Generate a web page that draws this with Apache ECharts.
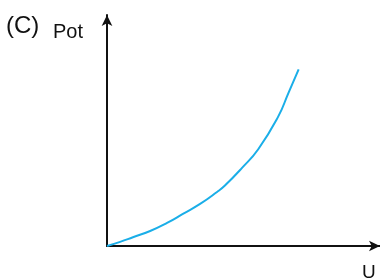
<!DOCTYPE html>
<html>
<head>
<meta charset="utf-8">
<script src="https://cdn.jsdelivr.net/npm/echarts@6/dist/echarts.min.js"></script>
<style>
html, body { margin: 0; padding: 0; background: #fff; }
#main { width: 380px; height: 280px; }
</style>
</head>
<body>
<div id="main"></div>
<script>
// curve (arbitrary units)
var uValues = [0, 0.48, 0.95, 1.58, 2.20, 2.78, 3.41, 4.03, 4.32, 4.93, 5.54, 6.27, 6.64, 7.02];
var potValues = [0, 0.18, 0.38, 0.65, 1.00, 1.39, 1.82, 2.34, 2.62, 3.36, 4.19, 5.60, 6.61, 7.65];
var panelLabel = '(C)';
var xName = 'U';
var yName = 'Pot';

var chart = echarts.init(document.getElementById('main'));
var points = [];
for (var i = 0; i < uValues.length; i++) {
	points.push([uValues[i], potValues[i]]);
}
var option = {
	backgroundColor: '#fff',
	animation: false,
	grid: {
		left: 107,
		right: 0,
		top: 15,
		bottom: 34
	},
	xAxis: {
		type: 'value',
		min: 0,
		max: 10,
		axisLine: {
			show: true,
			symbol: ['none', 'arrow'],
			symbolSize: [8, 11],
			lineStyle: { color: '#111', width: 2 }
		},
		axisTick: { show: false },
		axisLabel: { show: false },
		splitLine: { show: false }
	},
	yAxis: {
		type: 'value',
		min: 0,
		max: 10,
		axisLine: {
			show: true,
			symbol: ['none', 'arrow'],
			symbolSize: [8, 11],
			lineStyle: { color: '#111', width: 2 }
		},
		axisTick: { show: false },
		axisLabel: { show: false },
		splitLine: { show: false }
	},
	graphic: [
		{
			type: 'text', left: 6, top: 14,
			style: { text: panelLabel, font: '24px "Liberation Sans", Arial', fill: '#111' }
		},
		{
			type: 'text', left: 53, top: 22,
			style: { text: yName, font: '20px "Liberation Sans", Arial', fill: '#111' }
		},
		{
			type: 'text', left: 362, top: 263,
			style: { text: xName, font: '19px "Liberation Sans", Arial', fill: '#111' }
		}
	],
	series: [{
		type: 'line',
		smooth: 0.5,
		symbol: 'none',
		lineStyle: { color: '#1aaee8', width: 2 },
		data: points
	}]
};
chart.setOption(option);
</script>
</body>
</html>
